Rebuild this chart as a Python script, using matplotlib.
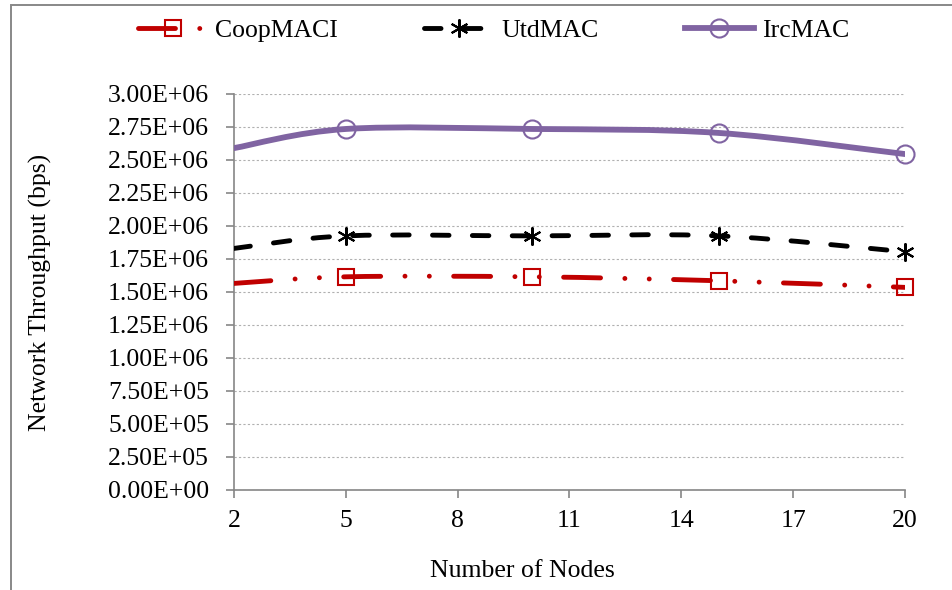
import numpy as np
import matplotlib
matplotlib.use("Agg")
import matplotlib.pyplot as plt
from matplotlib.path import Path
from matplotlib.patches import PathPatch, Rectangle
from matplotlib.lines import Line2D
from matplotlib.ticker import FuncFormatter

# data
nodes = [2, 5, 10, 15, 20]
coop = [1.565e6, 1.615e6, 1.615e6, 1.585e6, 1.535e6]
utd = [1.83e6, 1.925e6, 1.925e6, 1.925e6, 1.805e6]
irc = [2.59e6, 2.735e6, 2.735e6, 2.705e6, 2.545e6]
series_names = ["CoopMACI", "UtdMAC", "IrcMAC"]

plt.rcParams['font.family'] = ['Liberation Serif', 'DejaVu Serif']

fig = plt.figure(figsize=(9.53, 5.9), dpi=100)
ax = fig.add_axes([0.2455, 0.1695, 0.704, 0.6712])

# outer frame of the excel chart area (right/bottom edges fall outside the image)
fig.patches.append(Rectangle((0.012, -0.05), 1.2, 1.0415, transform=fig.transFigure,
                             fill=False, edgecolor='#888888', linewidth=1.4))


def smooth_path(xs, ys):
    # excel style smoothed line: bezier segments, catmull-rom control points
    pts = np.column_stack([xs, ys]).astype(float)
    n = len(pts)
    verts = [pts[0]]
    codes = [Path.MOVETO]
    for i in range(n - 1):
        p0 = pts[i - 1] if i > 0 else pts[i]
        p1 = pts[i]
        p2 = pts[i + 1]
        p3 = pts[i + 2] if i + 2 < n else pts[i + 1]
        c1 = p1 + (p2 - p0) / 6.0
        c2 = p2 - (p3 - p1) / 6.0
        verts += [c1, c2, p2]
        codes += [Path.CURVE4] * 3
    return Path(verts, codes)


styles = [
    dict(vals=coop, color='#C00000', lw=3.5, dash=(0, (7.6, 5, 0.01, 5, 0.01, 5)),
         marker='s', ms=12),
    dict(vals=utd, color='#000000', lw=3.5, dash=(0, (3.4, 4.8)),
         marker=(6, 2, 0), ms=13),
    dict(vals=irc, color='#8064A2', lw=4.2, dash='solid',
         marker='o', ms=13),
]

handles = []
for name, st in zip(series_names, styles):
    patch = PathPatch(smooth_path(nodes, st['vals']), fill=False, edgecolor=st['color'],
                      linewidth=st['lw'], linestyle=st['dash'], capstyle='round',
                      joinstyle='round', zorder=3)
    ax.add_patch(patch)
    ax.plot(nodes[1:], st['vals'][1:], linestyle='none', marker=st['marker'],
            markersize=st['ms'], markerfacecolor='none', markeredgecolor=st['color'],
            markeredgewidth=1.5, zorder=4, clip_on=False)
    handles.append(Line2D([], [], color=st['color'], linewidth=st['lw'],
                          linestyle=st['dash'], dash_capstyle='round',
                          marker=st['marker'], markersize=st['ms'],
                          markerfacecolor='none', markeredgecolor=st['color'],
                          markeredgewidth=1.5, label=name))

ax.set_xlim(2, 20)
ax.set_ylim(0, 3.0e6)
ax.set_xticks(np.arange(2, 21, 3))
ax.set_yticks(np.arange(0, 3.0e6 + 1, 0.25e6))
ax.yaxis.set_major_formatter(FuncFormatter(lambda v, p: "%.2E" % v))
ax.grid(axis='y', color='#b0b0b0', linestyle=(0, (2, 2)), linewidth=0.8)
ax.set_axisbelow(True)

for side in ['top', 'right']:
    ax.spines[side].set_visible(False)
for side in ['left', 'bottom']:
    ax.spines[side].set_color('#868686')
    ax.spines[side].set_linewidth(1.2)
ax.tick_params(axis='both', colors='#868686', length=6, width=1.2, labelsize=18.5,
               labelcolor='black', direction='out')
ax.tick_params(axis='x', pad=8.5)
ax.tick_params(axis='y', pad=12)

ax.set_xlabel("Number of Nodes", fontsize=18.5)
ax.set_ylabel("Network Throughput (bps)", fontsize=18.5)
ax.xaxis.set_label_coords(0.43, -0.178)
ax.yaxis.set_label_coords(-0.271, 0.5)

fig.legend(handles=handles, loc='center', bbox_to_anchor=(0.518, 0.949), ncol=3,
           frameon=False, fontsize=18.5, handlelength=2.7, columnspacing=3.35,
           handletextpad=0.3)

fig.savefig("out.png", dpi=100)
